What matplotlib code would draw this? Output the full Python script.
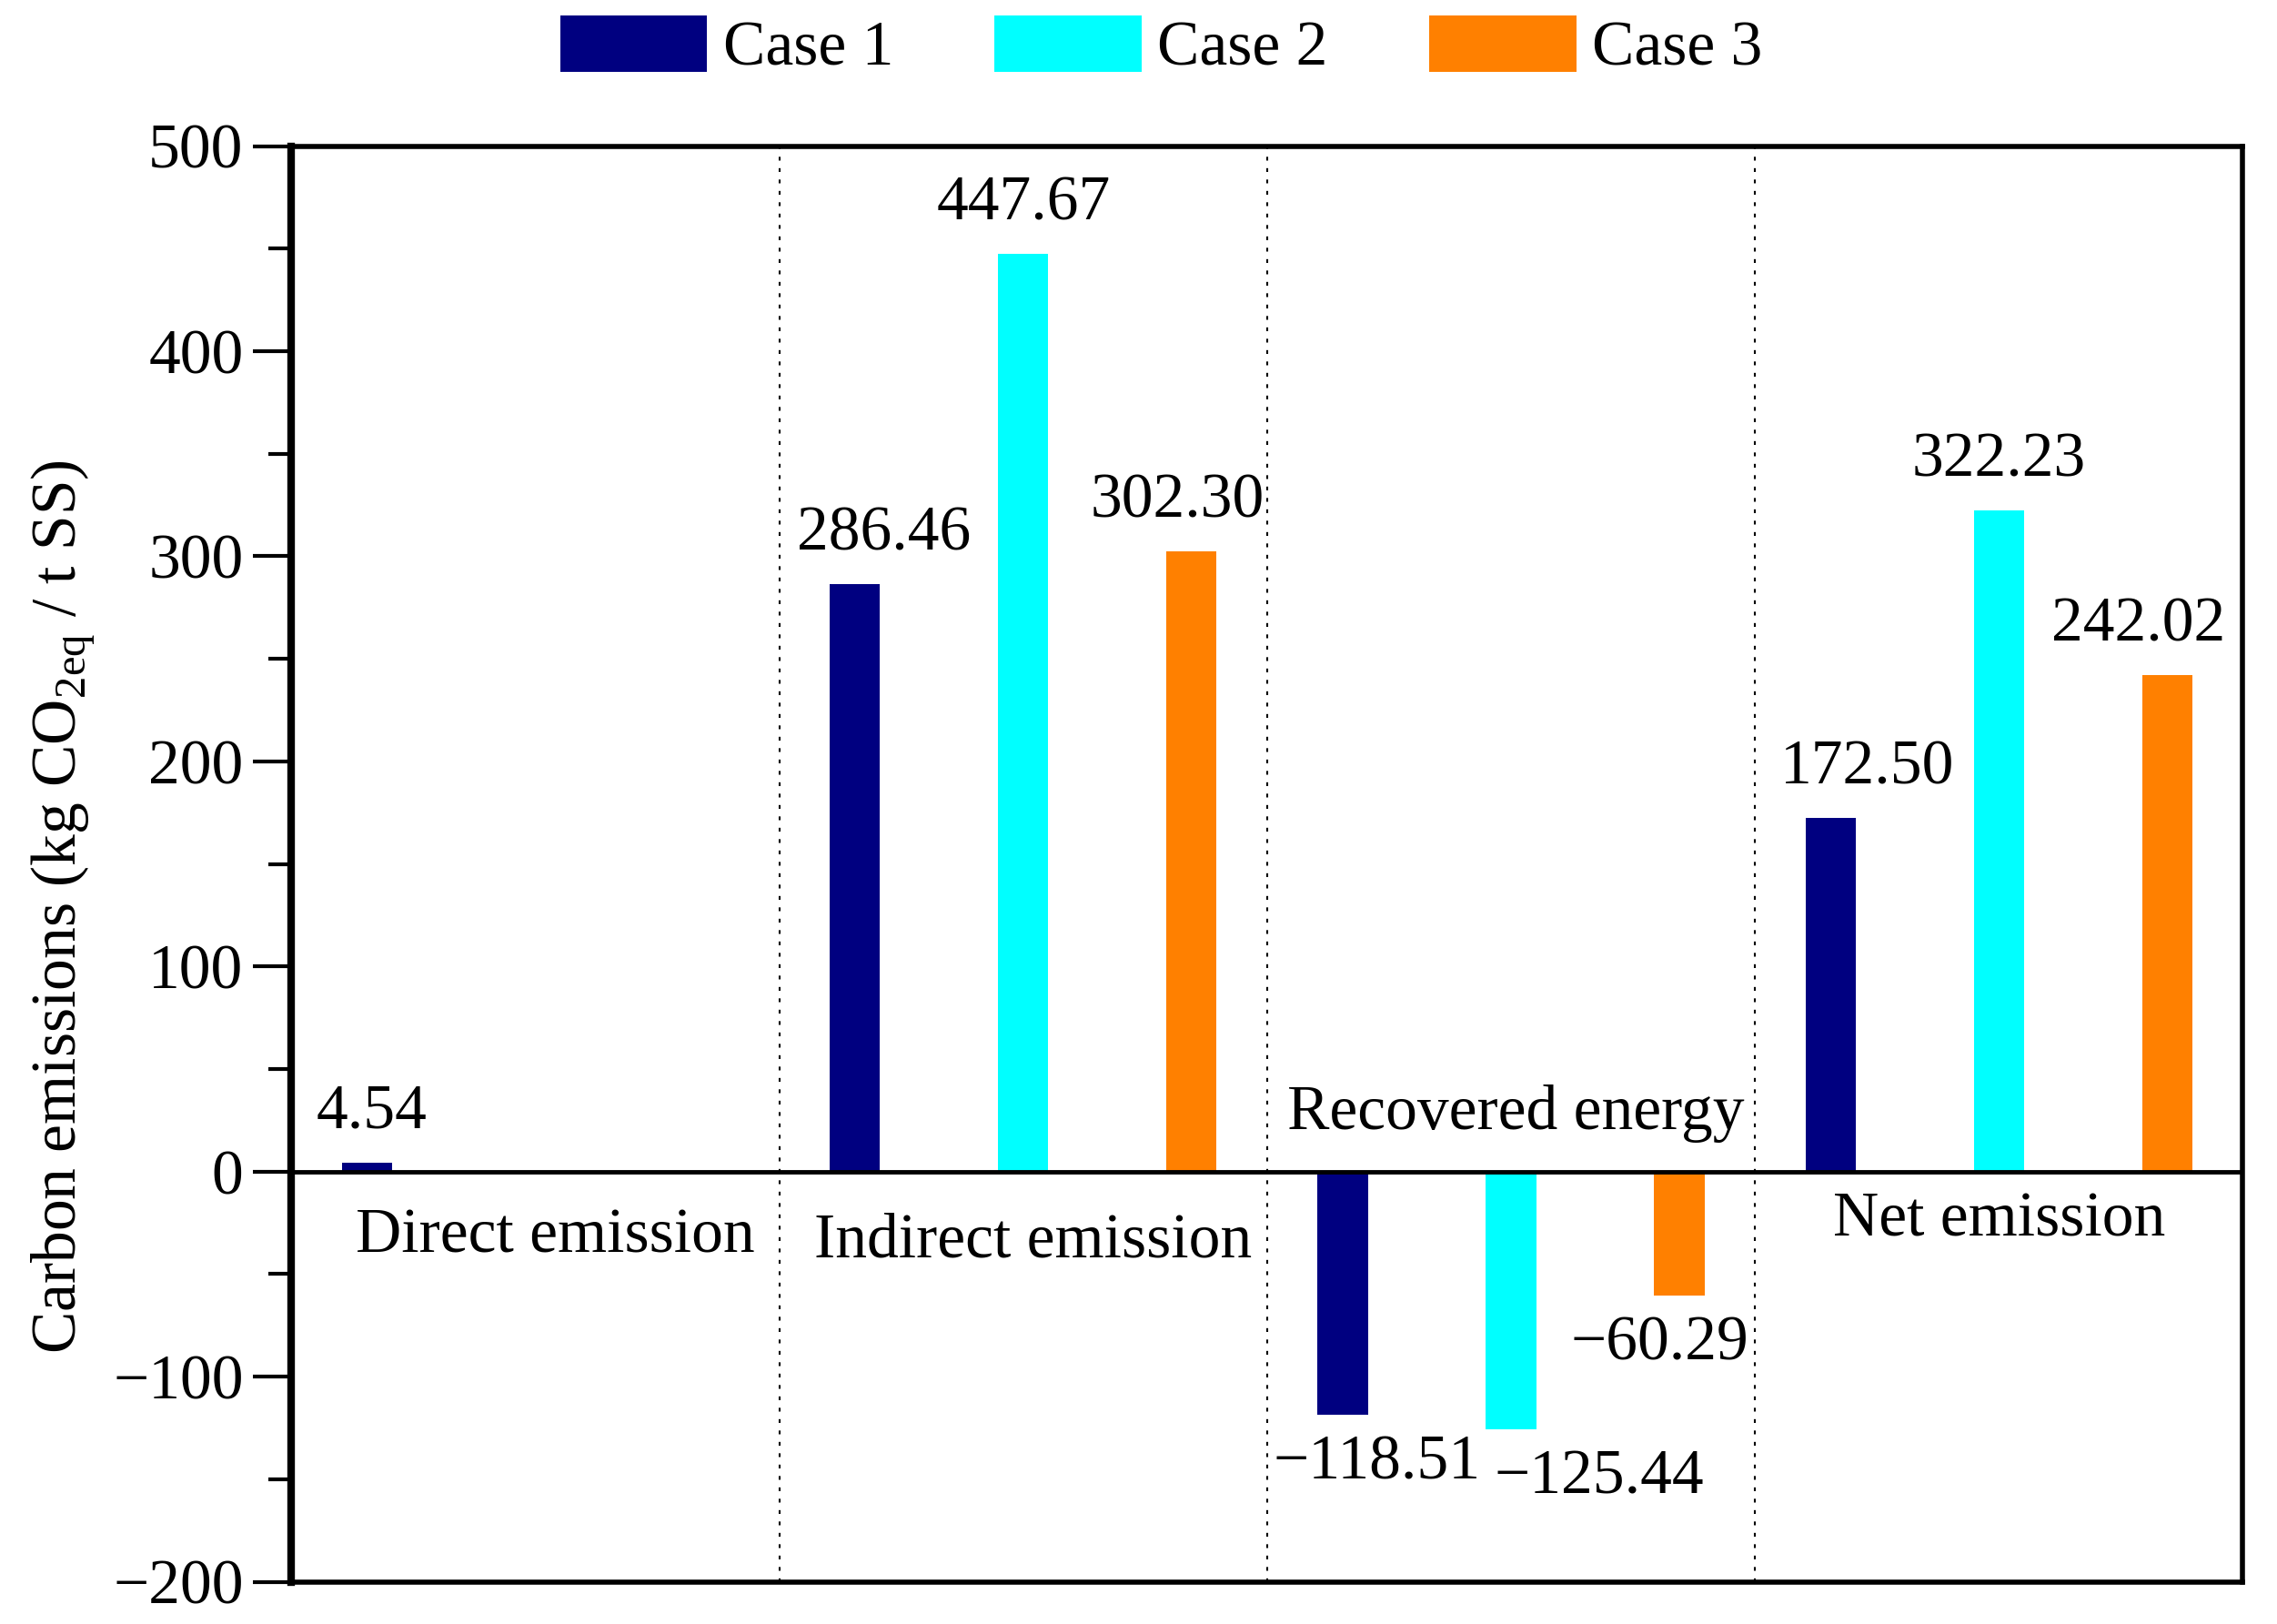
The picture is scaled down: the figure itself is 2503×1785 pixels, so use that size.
import matplotlib
matplotlib.use("Agg")
import matplotlib.pyplot as plt
import numpy as np

plt.rcParams['font.family'] = ['Liberation Serif', 'DejaVu Serif']
plt.rcParams['mathtext.fontset'] = 'custom'
plt.rcParams['mathtext.rm'] = 'Liberation Serif'

# data
groups = ["Direct emission", "Indirect emission", "Recovered energy", "Net emission"]
cases = ["Case 1", "Case 2", "Case 3"]
case1 = [4.54, 286.46, -118.51, 172.50]
case2 = [None, 447.67, -125.44, 322.23]
case3 = [None, 302.30, -60.29, 242.02]
colors = ["#000080", "#00FFFF", "#FF8000"]

fig = plt.figure(figsize=(25.03, 17.85), dpi=100)
ax = fig.add_axes([0.128, 0.026, 0.857, 0.884])

fs = 50
offsets = [-0.345, 0.0, 0.345]
width = 0.103

# small per-label nudges (in x data units) to mimic the original placement
label_dx = {
    (0, 0): 0.01,
    (1, 0): 0.06, (1, 2): -0.03,
    (2, 0): 0.07, (2, 1): 0.18, (2, 2): -0.04,
    (3, 0): 0.075, (3, 2): -0.06,
}

for ci, (vals, col) in enumerate(zip([case1, case2, case3], colors)):
    for gi, v in enumerate(vals):
        if v is None:
            continue
        x = gi + 0.5 + offsets[ci]
        ax.bar(x, v, width=width, color=col, zorder=2)
        txt = f"{v:.2f}".replace("-", "\u2212")
        dx = label_dx.get((gi, ci), 0.0)
        if v >= 0:
            ax.text(x + dx, v + 10, txt, ha="center", va="bottom", fontsize=fs)
        else:
            ax.text(x + dx, v - 10, txt, ha="center", va="top", fontsize=fs)

# legend handles
for name, col in zip(cases, colors):
    ax.bar(0, 0, width=0, color=col, label=name)

# group labels
ax.text(0.54, -18, groups[0], ha="center", va="top", fontsize=fs)
ax.text(1.52, -20, groups[1], ha="center", va="top", fontsize=fs)
ax.text(2.51, 14, groups[2], ha="center", va="bottom", fontsize=fs)
ax.text(3.50, -10, groups[3], ha="center", va="top", fontsize=fs)

ax.axhline(0, color="black", lw=3.5, zorder=3)
for xv in [1, 2, 3]:
    ax.axvline(xv, color="black", lw=1.5, ls=(0, (2, 4)), zorder=1)

ax.set_xlim(0, 4)
ax.set_ylim(-200, 500)
ax.set_xticks([])
ax.set_yticks(np.arange(-200, 501, 100))
ax.set_yticks(np.arange(-150, 500, 100), minor=True)
ax.tick_params(axis="y", which="major", length=30, width=3, labelsize=fs, pad=8)
ax.tick_params(axis="y", which="minor", length=18, width=3)
for s in ax.spines.values():
    s.set_linewidth(4)
ax.spines["left"].set_linewidth(6)

ax.set_ylabel(r"Carbon emissions (kg CO$_\mathregular{2eq}$ / t SS)", fontsize=fs, labelpad=20)
ax.yaxis.set_label_coords(-0.1, 0.47)

leg = fig.legend(loc="center", bbox_to_anchor=(0.51, 0.971), ncol=3, frameon=False,
                 fontsize=fs, handlelength=2.33, handleheight=1.0, handletextpad=0.25,
                 columnspacing=1.6)

fig.savefig("out.png", dpi=100)
